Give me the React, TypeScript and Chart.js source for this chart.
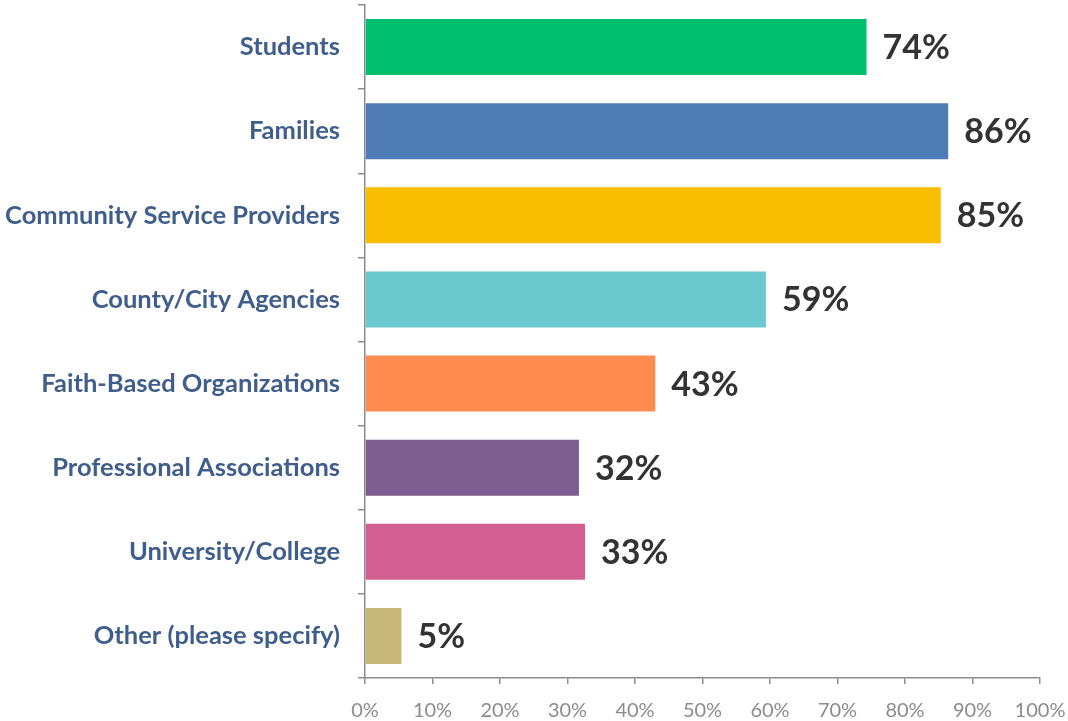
import React, { useEffect, useRef } from "react";
import { Chart, registerables } from "chart.js";

Chart.register(...registerables);

const categories = [
  "Students",
  "Families",
  "Community Service Providers",
  "County/City Agencies",
  "Faith-Based Organizations",
  "Professional Associations",
  "University/College",
  "Other (please specify)",
];
const values = [74.3, 86.4, 85.3, 59.4, 43.0, 31.7, 32.6, 5.4];
const barColors = [
  "#00BF6F",
  "#507CB6",
  "#F9BE00",
  "#6BC8CD",
  "#FF8B4F",
  "#7D5E90",
  "#D25F90",
  "#C7B879",
];

const valueLabels = {
  id: "valueLabels",
  afterDatasetsDraw(chart: any) {
    const ctx = chart.ctx;
    const meta = chart.getDatasetMeta(0);
    ctx.save();
    ctx.font = "bold 34px Lato";
    ctx.fillStyle = "#333333";
    ctx.textBaseline = "middle";
    ctx.textAlign = "left";
    meta.data.forEach((bar: any, i: number) => {
      ctx.fillText(Math.round(values[i]) + "%", bar.x + 16, bar.y + 1);
    });
    ctx.restore();
  },
};

export default function App() {
  const ref = useRef<HTMLCanvasElement>(null);
  useEffect(() => {
    if (!ref.current) return;
    const chart = new Chart(ref.current, {
      type: "bar",
      data: {
        labels: categories,
        datasets: [
          {
            data: values,
            backgroundColor: barColors,
            borderWidth: 0,
            categoryPercentage: 1,
            barPercentage: 0.666,
          },
        ],
      },
      options: {
        indexAxis: "y",
        responsive: false,
        animation: false,
        layout: { padding: { top: 5, right: 28, left: 0, bottom: 0 } },
        plugins: {
          legend: { display: false },
          tooltip: { enabled: false },
        },
        scales: {
          y: {
            grid: {
              display: true,
              drawOnChartArea: false,
              drawTicks: true,
              tickLength: 7,
              color: "#8c8c8c",
              lineWidth: 1.5,
            },
            border: { display: true, color: "#8c8c8c", width: 1.5 },
            ticks: {
              color: "#3F5E8C",
              font: { family: "Lato", size: 25.5, weight: "bold" },
              padding: 18,
            },
            afterFit: (s: any) => {
              s.width = 365;
              s.paddingTop = 0;
              s.paddingBottom = 0;
            },
          },
          x: {
            min: 0,
            max: 100,
            grid: {
              display: true,
              drawOnChartArea: false,
              drawTicks: true,
              tickLength: 6,
              color: "#8c8c8c",
              lineWidth: 1.5,
            },
            border: { display: true, color: "#8c8c8c", width: 1.5 },
            ticks: {
              stepSize: 10,
              color: "#8c8c8c",
              font: { family: "Lato", size: 20 },
              padding: 15,
              callback: (v: any) => v + "%",
            },
            afterFit: (s: any) => {
              s.height = 43;
              s.paddingLeft = 0;
              s.paddingRight = 0;
            },
          },
        },
      },
      plugins: [valueLabels],
    });
    return () => chart.destroy();
  }, []);
  return (
    <div style={{ position: "absolute", left: 0, top: 0, width: 1068, height: 721, background: "#fff" }}>
      <canvas ref={ref} width={1068} height={721} style={{ display: "block" }} />
    </div>
  );
}
